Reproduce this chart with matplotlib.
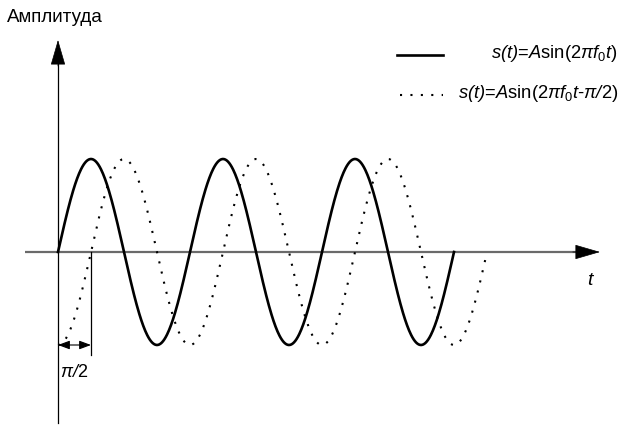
import numpy as np
import matplotlib.pyplot as plt
from matplotlib.patches import FancyArrowPatch, ArrowStyle

plt.rcParams['font.family'] = ['Liberation Sans', 'DejaVu Sans']
plt.rcParams['mathtext.fontset'] = 'custom'
plt.rcParams['mathtext.rm'] = 'Liberation Sans'
plt.rcParams['mathtext.it'] = 'Liberation Sans:italic'
plt.rcParams['mathtext.sf'] = 'Liberation Sans:italic'

# signal parameters (time in periods of f0, amplitude A = 1)
amplitude = 1.0
f0 = 1.0
phase_shift = np.pi / 2
n_periods_solid = 3.0
n_periods_dotted = 3.25
label_solid = r'$\mathsf{s(t)}\text{=}A\text{sin(2}\pi f_0t\text{)}$'
label_dotted = r'$\mathsf{s(t)}\text{=}A\text{sin(2}\pi f_0t\text{-}\mathsf{\pi/}\text{2)}$'
y_label = 'Амплитуда'
x_label = r'$t$'
shift_label = r'$\mathsf{\pi/}\text{2}$'

t_solid = np.linspace(0, n_periods_solid / f0, 600)
t_dotted = np.linspace(0, n_periods_dotted / f0, 650)
s_solid = amplitude * np.sin(2 * np.pi * f0 * t_solid)
s_dotted = amplitude * np.sin(2 * np.pi * f0 * t_dotted - phase_shift)

fig = plt.figure(figsize=(6.2, 4.26), dpi=100, facecolor='white')
ax = fig.add_axes([0, 0, 1, 1])
ax.axis('off')
ax.set_xlim(-58 / 132, 562 / 132)
ax.set_ylim(-174 / 93, 252 / 93)

# axes with arrows
ax.plot([-0.25, 4.0], [0, 0], color='#6a6a6a', lw=1.6, solid_capstyle='butt', zorder=1)
ax.plot([0, 0], [-1.84, 2.1], color='black', lw=0.9, zorder=1)
head = ArrowStyle('-|>', head_length=16.5, head_width=4.8)
ax.add_patch(FancyArrowPatch((3.9, 0), (4.106, 0), arrowstyle=head, mutation_scale=1,
                             color='black', shrinkA=0, shrinkB=0, lw=0.5, zorder=3))
ax.add_patch(FancyArrowPatch((0, 2.0), (0, 2.28), arrowstyle=head, mutation_scale=1,
                             color='black', shrinkA=0, shrinkB=0, lw=0.5, zorder=3))

# signals
ax.plot(t_solid, s_solid, color='black', lw=1.9, zorder=2)
ax.plot(t_dotted, s_dotted, color='black', lw=1.5, linestyle=(0, (1, 4)), zorder=2)

# phase shift marker
t_shift = phase_shift / (2 * np.pi * f0)
ax.plot([t_shift, t_shift], [0, -1.11], color='black', lw=0.9)
small = ArrowStyle('<|-|>', head_length=7, head_width=2.6)
ax.add_patch(FancyArrowPatch((0, -1.0), (t_shift, -1.0), arrowstyle=small, mutation_scale=1,
                             color='black', shrinkA=0, shrinkB=0, lw=0.8))
ax.text(t_shift / 2, -1.30, shift_label, fontsize=13, ha='center', va='center')

# axis labels
ax.text(-0.39, 2.52, y_label, fontsize=13.5, ha='left', va='center')
ax.text(4.04, -0.31, x_label, fontsize=14, ha='center', va='center')

# legend drawn by hand
ax.plot([(397 - 58) / 132, (443 - 58) / 132], [(252 - 55) / 93] * 2, color='black', lw=1.9)
ax.plot([(400 - 58) / 132, (443 - 58) / 132], [(252 - 95) / 93] * 2, color='black', lw=1.5,
        linestyle=(0, (1, 4)))
ax.text((618 - 58) / 132, (252 - 53) / 93, label_solid, fontsize=13.2, ha='right', va='center')
ax.text((618 - 58) / 132, (252 - 93) / 93, label_dotted, fontsize=13.2, ha='right', va='center')

fig.savefig('out.png', dpi=100, facecolor='white')
